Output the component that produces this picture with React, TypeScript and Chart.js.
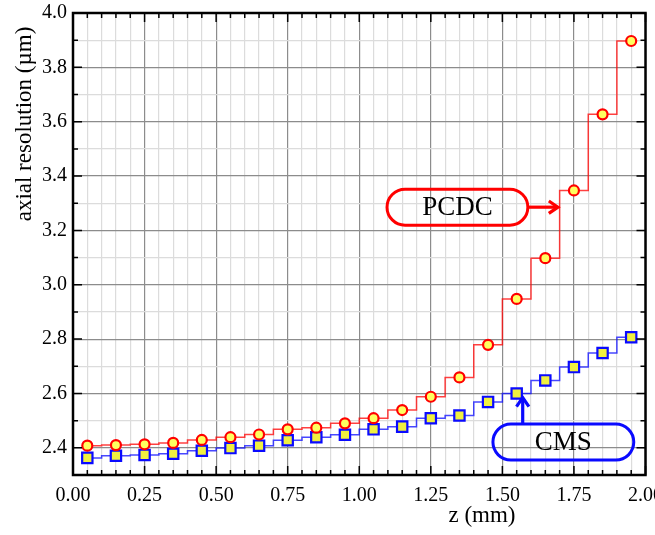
import React, { useEffect, useRef } from "react";
import { Chart, registerables } from "chart.js";

Chart.register(...registerables);

// ---- data ----
const zValues = [0.05, 0.15, 0.25, 0.35, 0.45, 0.55, 0.65, 0.75, 0.85, 0.95, 1.05, 1.15, 1.25, 1.35, 1.45, 1.55, 1.65, 1.75, 1.85, 1.95];
const pcdcValues = [2.408, 2.41, 2.413, 2.418, 2.429, 2.439, 2.449, 2.468, 2.474, 2.49, 2.509, 2.539, 2.588, 2.659, 2.779, 2.948, 3.098, 3.347, 3.627, 3.897];
const cmsValues = [2.363, 2.371, 2.374, 2.378, 2.389, 2.399, 2.408, 2.428, 2.439, 2.448, 2.468, 2.478, 2.509, 2.519, 2.569, 2.6, 2.648, 2.697, 2.749, 2.807];
const seriesNames = ["PCDC", "CMS"];
const xTitle = "z (mm)";
const yTitle = "axial resolution (\u00b5m)";
const xRange = [0, 2];
const yRange = [2.3, 4.0];

// annotation boxes (data coordinates)
const pcdcLabel = { text: "PCDC", x0: 1.097, x1: 1.589, y: 3.2855, ax: 1.694, ay: 3.2855 };
const cmsLabel = { text: "CMS", x0: 1.467, x1: 1.959, y: 2.421, ax: 1.571, ay: 2.585 };

const FONT = '"Liberation Serif", "Times New Roman", serif';
const RED = "#ff0000";
const BLUE = "#0a0aff";

const isMult = (v: number, step: number) => Math.abs(v / step - Math.round(v / step)) < 1e-6;

function pill(ctx: CanvasRenderingContext2D, x0: number, y0: number, x1: number, y1: number) {
  const r = (y1 - y0) / 2;
  ctx.beginPath();
  ctx.moveTo(x0 + r, y0);
  ctx.lineTo(x1 - r, y0);
  ctx.arc(x1 - r, y0 + r, r, -Math.PI / 2, Math.PI / 2);
  ctx.lineTo(x0 + r, y1);
  ctx.arc(x0 + r, y0 + r, r, Math.PI / 2, (3 * Math.PI) / 2);
  ctx.closePath();
}

function arrow(ctx: CanvasRenderingContext2D, sx: number, sy: number, tx: number, ty: number) {
  const ang = Math.atan2(ty - sy, tx - sx);
  ctx.beginPath();
  ctx.moveTo(sx, sy);
  ctx.lineTo(tx - 2 * Math.cos(ang), ty - 2 * Math.sin(ang));
  ctx.stroke();
  const len = 11;
  const spread = 0.6;
  ctx.beginPath();
  ctx.moveTo(tx - len * Math.cos(ang - spread), ty - len * Math.sin(ang - spread));
  ctx.lineTo(tx, ty);
  ctx.lineTo(tx - len * Math.cos(ang + spread), ty - len * Math.sin(ang + spread));
  ctx.stroke();
}

const decorPlugin = {
  id: "decor",
  afterDatasetsDraw(chart: any) {
    const ctx: CanvasRenderingContext2D = chart.ctx;
    const xs = chart.scales.x;
    const ys = chart.scales.y;
    const { left, right, top, bottom } = chart.chartArea;
    ctx.save();
    // tick marks inward
    ctx.strokeStyle = "#000";
    ctx.lineWidth = 1.5;
    ctx.beginPath();
    xs.ticks.forEach((t: any) => {
      const px = xs.getPixelForValue(t.value);
      const len = isMult(t.value, 0.25) ? 9 : 5;
      ctx.moveTo(px, bottom);
      ctx.lineTo(px, bottom - len);
      ctx.moveTo(px, top);
      ctx.lineTo(px, top + len);
    });
    ys.ticks.forEach((t: any) => {
      const py = ys.getPixelForValue(t.value);
      const len = isMult(t.value, 0.2) ? 9 : 5;
      ctx.moveTo(left, py);
      ctx.lineTo(left + len, py);
      ctx.moveTo(right, py);
      ctx.lineTo(right - len, py);
    });
    ctx.stroke();
    // frame
    ctx.lineWidth = 2.5;
    ctx.strokeRect(left, top, right - left, bottom - top);

    // titles
    ctx.fillStyle = "#000";
    ctx.font = `23px ${FONT}`;
    ctx.textAlign = "center";
    ctx.textBaseline = "middle";
    ctx.fillText(xTitle, 482, 516);
    ctx.save();
    ctx.translate(25, 124);
    ctx.rotate(-Math.PI / 2);
    ctx.fillText(yTitle, 0, 0);
    ctx.restore();

    // annotations
    const boxH = 36;
    // PCDC
    {
      const x0 = xs.getPixelForValue(pcdcLabel.x0);
      const x1 = xs.getPixelForValue(pcdcLabel.x1);
      const yc = ys.getPixelForValue(pcdcLabel.y);
      ctx.strokeStyle = RED;
      ctx.lineWidth = 3;
      pill(ctx, x0, yc - boxH / 2, x1, yc + boxH / 2);
      ctx.stroke();
      ctx.lineWidth = 3.2;
      ctx.lineJoin = "miter";
      arrow(ctx, x1, yc, xs.getPixelForValue(pcdcLabel.ax), ys.getPixelForValue(pcdcLabel.ay));
      ctx.fillStyle = "#000";
      ctx.font = `27px ${FONT}`;
      ctx.fillText(pcdcLabel.text, (x0 + x1) / 2, yc + 1);
    }
    // CMS
    {
      const x0 = xs.getPixelForValue(cmsLabel.x0);
      const x1 = xs.getPixelForValue(cmsLabel.x1);
      const yc = ys.getPixelForValue(cmsLabel.y);
      ctx.strokeStyle = BLUE;
      ctx.lineWidth = 3;
      pill(ctx, x0, yc - boxH / 2, x1, yc + boxH / 2);
      ctx.stroke();
      ctx.lineWidth = 3.2;
      const ax = xs.getPixelForValue(cmsLabel.ax);
      arrow(ctx, ax, yc - boxH / 2, ax, ys.getPixelForValue(cmsLabel.ay));
      ctx.fillStyle = "#000";
      ctx.font = `27px ${FONT}`;
      ctx.fillText(cmsLabel.text, (x0 + x1) / 2, yc + 1);
    }
    ctx.restore();
  },
};

export default function App() {
  const ref = useRef<HTMLCanvasElement | null>(null);
  useEffect(() => {
    if (!ref.current) return;
    const chart = new Chart(ref.current, {
      type: "line",
      data: {
        datasets: [
          {
            label: seriesNames[0],
            data: zValues.map((z, i) => ({ x: z, y: pcdcValues[i] })),
            borderColor: "rgba(255,0,0,0.75)",
            borderWidth: 1.5,
            stepped: "middle",
            pointStyle: "circle",
            pointRadius: 5,
            pointBorderWidth: 2.2,
            pointBorderColor: RED,
            pointBackgroundColor: "#ffff60",
            fill: false,
          },
          {
            label: seriesNames[1],
            data: zValues.map((z, i) => ({ x: z, y: cmsValues[i] })),
            borderColor: "rgba(10,10,255,0.75)",
            borderWidth: 1.5,
            stepped: "middle",
            pointStyle: "rect",
            pointRadius: 7.3,
            pointBorderWidth: 2.2,
            pointBorderColor: BLUE,
            pointBackgroundColor: "#f0f040",
            fill: false,
          },
        ],
      },
      options: {
        animation: false,
        responsive: true,
        maintainAspectRatio: false,
        layout: { padding: { left: 0, top: 13, right: 9, bottom: 0 } },
        plugins: { legend: { display: false }, tooltip: { enabled: false } },
        scales: {
          x: {
            type: "linear",
            min: xRange[0],
            max: xRange[1],
            afterFit: (s: any) => {
              s.height = 60;
              s.paddingLeft = 0;
              s.paddingRight = 0;
            },
            border: { display: false },
            grid: {
              drawTicks: false,
              lineWidth: 1.2,
              color: (c: any) => (isMult(c.tick.value, 0.25) ? "#8c8c8c" : "#dcdcdc"),
            },
            ticks: {
              stepSize: 0.05,
              autoSkip: false,
              maxRotation: 0,
              padding: 9,
              color: "#000",
              font: { family: FONT, size: 20 },
              callback: (v: any) => (isMult(Number(v), 0.25) ? Number(v).toFixed(2) : ""),
            },
          },
          y: {
            type: "linear",
            min: yRange[0],
            max: yRange[1],
            afterFit: (s: any) => {
              s.width = 73;
              s.paddingTop = 0;
              s.paddingBottom = 0;
            },
            border: { display: false },
            grid: {
              drawTicks: false,
              lineWidth: 1.2,
              color: (c: any) => (isMult(c.tick.value, 0.2) ? "#8c8c8c" : "#dcdcdc"),
            },
            ticks: {
              stepSize: 0.1,
              autoSkip: false,
              padding: 6,
              color: "#000",
              font: { family: FONT, size: 20 },
              callback: (v: any) => (isMult(Number(v), 0.2) ? Number(v).toFixed(1) : ""),
            },
          },
        },
      },
      plugins: [decorPlugin],
    } as any);
    return () => chart.destroy();
  }, []);
  return (
    <div style={{ position: "fixed", left: 0, top: 0, width: 655, height: 535, background: "#fff" }}>
      <canvas ref={ref} />
    </div>
  );
}
